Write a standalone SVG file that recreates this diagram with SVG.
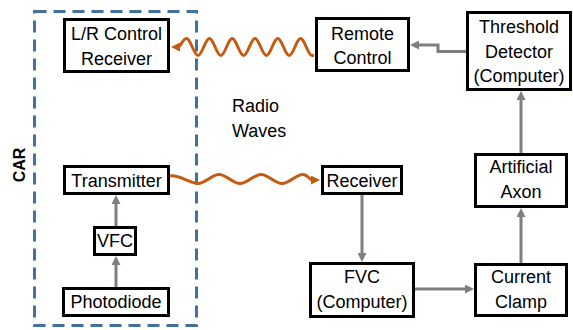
<svg xmlns="http://www.w3.org/2000/svg" width="573" height="330" viewBox="0 0 573 330">
<style>
.box{fill:#fff;stroke:#000;stroke-width:3}
.t{font-family:"Liberation Sans",Arial,sans-serif;font-size:18px;fill:#000;text-anchor:middle}
.g{fill:none;stroke:#7F7F7F;stroke-width:3}
.w{fill:none;stroke:#C55A11;stroke-width:3}
</style>
<defs>
<marker id="ag" markerUnits="userSpaceOnUse" markerWidth="9" markerHeight="9" viewBox="0 0 9 9" refX="3" refY="4.5" orient="auto"><path d="M0,0 L9,4.5 L0,9 z" fill="#7F7F7F"/></marker>
<marker id="ao" markerUnits="userSpaceOnUse" markerWidth="9" markerHeight="9" viewBox="0 0 9 9" refX="3" refY="4.5" orient="auto"><path d="M0,0 L9,4.5 L0,9 z" fill="#C55A11"/></marker>
</defs>
<rect id="car" x="34.5" y="11.5" width="162" height="314" fill="none" stroke="#41719C" stroke-width="3" stroke-dasharray="12 7"/>
<text x="0" y="0" transform="translate(25,165) rotate(-90)" style="font-family:'Liberation Sans',Arial,sans-serif;font-size:16px;font-weight:bold;text-anchor:middle">CAR</text>
<text class="t" x="232" y="111.5" style="text-anchor:start">Radio</text>
<text class="t" x="232" y="136.5" style="text-anchor:start">Waves</text>
<g id="connectors">
<path class="g" d="M116,287 L116,262" marker-end="url(#ag)"/>
<path class="g" d="M116,226 L116,201" marker-end="url(#ag)"/>
<path class="g" d="M362,195 L362,256" marker-end="url(#ag)"/>
<path class="g" d="M415,289 L468,289" marker-end="url(#ag)"/>
<path class="g" d="M521,263 L521,214" marker-end="url(#ag)"/>
<path class="g" d="M521,153 L521,97" marker-end="url(#ag)"/>
<path class="g" d="M466,51.5 L438,51.5 L438,45 L416,45" marker-end="url(#ag)"/>
<path class="w" d="M314,55.5 L312,55.5 C307.85,55.5 304.75,38.5 300.6,38.5 S293.35,55.5 289.2,55.5 S281.95,38.5 277.8,38.5 S270.55,55.5 266.4,55.5 S259.15,38.5 255,38.5 S247.75,55.5 243.6,55.5 S236.35,38.5 232.2,38.5 S224.95,55.5 220.8,55.5 S213.55,38.5 209.4,38.5 S202.15,55.5 198,55.5 S190.75,38.5 186.6,38.5 C182.45,38.5 181,47 178,47 L177,47" marker-end="url(#ao)"/>
<path class="w" d="M170,176 C178,174 190.4,183.5 198,183.5 S211.36,174.5 219,174.5 S232.36,183.5 240,183.5 S253.36,174.5 261,174.5 S274.36,183.5 282,183.5 S295.36,174.5 303,174.5 C308,174.5 309,180 313,180 L314,180" marker-end="url(#ao)"/>
</g>
<g id="lr">
<rect class="box" x="64.5" y="19.5" width="104" height="52"/>
<text class="t" x="116.5" y="40">L/R Control</text>
<text class="t" x="116.5" y="65">Receiver</text>
</g>
<g id="remote">
<rect class="box" x="316.5" y="18.5" width="92" height="52"/>
<text class="t" x="362.5" y="39.5">Remote</text>
<text class="t" x="362.5" y="64">Control</text>
</g>
<g id="threshold">
<rect class="box" x="467.5" y="12.5" width="103" height="77"/>
<text class="t" x="519" y="32.5">Threshold</text>
<text class="t" x="519" y="57.5">Detector</text>
<text class="t" x="519" y="82">(Computer)</text>
</g>
<g id="axon">
<rect class="box" x="475.5" y="154.5" width="91" height="52"/>
<text class="t" x="521" y="173">Artificial</text>
<text class="t" x="521" y="198">Axon</text>
</g>
<g id="clamp">
<rect class="box" x="475.5" y="264.5" width="91" height="51"/>
<text class="t" x="521" y="283">Current</text>
<text class="t" x="521" y="308">Clamp</text>
</g>
<g id="fvc">
<rect class="box" x="310.5" y="263.5" width="103" height="53"/>
<text class="t" x="362" y="283">FVC</text>
<text class="t" x="362" y="308">(Computer)</text>
</g>
<g id="receiver">
<rect class="box" x="322.5" y="166.5" width="79" height="27"/>
<text class="t" x="362" y="187">Receiver</text>
</g>
<g id="transmitter">
<rect class="box" x="64.5" y="166.5" width="104" height="27"/>
<text class="t" x="116.5" y="187">Transmitter</text>
</g>
<g id="vfc">
<rect class="box" x="94.5" y="227.5" width="41" height="27"/>
<text class="t" x="115" y="247">VFC</text>
</g>
<g id="photodiode">
<rect class="box" x="63.5" y="288.5" width="105" height="27"/>
<text class="t" x="116" y="308">Photodiode</text>
</g>
</svg>
